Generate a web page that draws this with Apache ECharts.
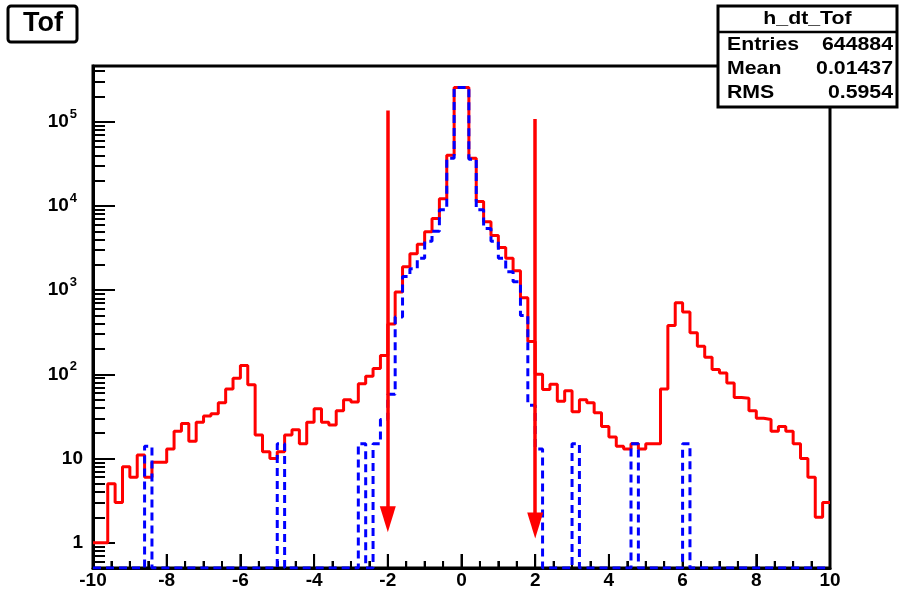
<!DOCTYPE html>
<html>
<head>
<meta charset="utf-8">
<title>h_dt_Tof</title>
<script src="https://cdn.jsdelivr.net/npm/echarts@6/dist/echarts.min.js"></script>
<style>
  html, body { margin: 0; padding: 0; background: #fff; }
  #tofChart { width: 900px; height: 593px; }
</style>
</head>
<body>
<div id="tofChart"></div>
<script>
// 100 bins of 0.2 between -10 and 10
const binStart = -10
const binWidth = 0.2

// h_dt_Tof, red solid
const redCounts = [
  1, 1, 5, 3, 8, 6, 11, 6, 9, 9,
  13, 21, 26, 16, 27, 32, 34, 46, 67, 90,
  127, 75, 19, 12, 10, 12, 19, 22, 15, 27,
  39, 27, 25, 37, 50, 47, 77, 95, 117, 167,
  395, 950, 1900, 2700, 3500, 4950, 7100, 12200, 40000, 255000,
  255000, 37000, 11300, 6500, 4450, 3200, 2400, 1700, 810, 245,
  100, 66, 76, 48, 64, 36, 50, 46, 35, 24,
  18, 14, 13, 15, 13, 15, 15, 67, 380, 710,
  550, 311, 215, 160, 114, 104, 79, 53, 52, 37,
  30, 29, 21, 24, 21, 15, 10, 6, 2, 3
]

// blue dashed
const blueCounts = [
  0, 0, 0, 0, 0, 0, 0, 14, 0, 0,
  0, 0, 0, 0, 0, 0, 0, 0, 0, 0,
  0, 0, 0, 0, 0, 15, 0, 0, 0, 0,
  0, 0, 0, 0, 0, 0, 15, 0, 15, 29,
  58, 480, 1450, 1800, 2400, 3800, 5000, 9000, 37000, 255000,
  255000, 36000, 9000, 5400, 3800, 2400, 1650, 1260, 500, 43,
  13, 0, 0, 0, 0, 15, 0, 0, 0, 0,
  0, 0, 0, 15, 0, 0, 0, 0, 0, 0,
  15, 0, 0, 0, 0, 0, 0, 0, 0, 0,
  0, 0, 0, 0, 0, 0, 0, 0, 0, 0
]

// log y axis
const yMin = 0.5
const yMax = 4.6e5
const yDecades = [0, 1, 2, 3, 4, 5]
const yMinorMultiples = [2, 3, 4, 5, 6, 7, 8, 9]

// x axis
const xMin = -10
const xMax = 10
const xStep = 2
const xMajorTicks = [-10, -8, -6, -4, -2, 0, 2, 4, 6, 8, 10]
const xMinorTicks = [-9.5, -9, -8.5, -7.5, -7, -6.5, -5.5, -5, -4.5, -3.5, -3, -2.5,
  -1.5, -1, -0.5, 0.5, 1, 1.5, 2.5, 3, 3.5, 4.5, 5, 5.5, 6.5, 7, 7.5, 8.5, 9, 9.5]

// cut arrows
const arrowX = [-2, 2]
const arrowTop = [1.36e5, 1.08e5]
const arrowTip = [1.9, 1.6]

// title and stat box
const histTitle = 'Tof'
const statTitle = 'h_dt_Tof'
const statNames = ['Entries', 'Mean', 'RMS']
const statValues = ['644884', '0.01437', '0.5954']

const FONT = 'Liberation Sans, Arial, Helvetica, sans-serif'
const lo = Math.log10(yMin)
const hi = Math.log10(yMax)

// bins -> points on lower edges, closed with the upper edge of the last bin
function toStep(counts) {
  let pts = counts.map((c, i) => [binStart + i * binWidth, Math.log10(Math.max(c, yMin))])
  pts.push([binStart + counts.length * binWidth, pts[pts.length - 1][1]])
  return pts
}

let minorTicks = []
for (let d = -1; d <= 5; d++) {
  yMinorMultiples.forEach(m => {
    let v = Math.log10(m * Math.pow(10, d))
    if (v > lo + 1e-6 && v < hi) minorTicks.push(v)
  })
}

// x ticks as [value, isMajor]
let xTickData = xMajorTicks.map(v => [v, 1]).concat(xMinorTicks.map(v => [v, 0]))

function statText(txt, x, y, align) {
  return {
    type: 'text', x: x, y: y, z: 101, scaleX: 1.12,
    style: { text: txt, font: 'bold 19px ' + FONT, fill: '#000', textAlign: align, textVerticalAlign: 'middle' }
  }
}

let statGraphics = [statText(statTitle, 807.5, 19, 'center')]
statNames.forEach((name, i) => {
  statGraphics.push(statText(name, 727, 45 + i * 24, 'left'))
  statGraphics.push(statText(statValues[i], 893, 45 + i * 24, 'right'))
})

let option = {
  animation: false,
  textStyle: { fontFamily: FONT },
  grid: {
    left: 93, right: 70, top: 66, bottom: 25,
    show: true, borderColor: '#000', borderWidth: 3
  },
  xAxis: {
    type: 'value',
    min: xMin, max: xMax, interval: xStep,
    axisLine: { show: true, onZero: false, lineStyle: { color: '#000', width: 3 } },
    axisTick: { show: true, inside: true, length: 14, lineStyle: { color: '#000', width: 2 } },
    minorTick: { show: true, splitNumber: 4, length: 7, lineStyle: { color: '#000', width: 2 } },
    axisLabel: { color: '#000', fontSize: 19, fontWeight: 'bold', margin: 3 },
    splitLine: { show: false }
  },
  yAxis: [
    {
      type: 'value',
      min: lo, max: hi,
      axisLine: { show: true, onZero: false, lineStyle: { color: '#000', width: 3 } },
      axisTick: { show: true, inside: true, length: 22, customValues: yDecades, lineStyle: { color: '#000', width: 2 } },
      axisLabel: {
        customValues: yDecades,
        margin: 10,
        formatter: v => {
          let e = Math.round(v)
          if (e === 0) return '{b|1}'
          if (e === 1) return '{b|10}'
          return '{b|10}{s|' + e + '}'
        },
        rich: {
          b: { fontSize: 19, fontWeight: 'bold', color: '#000', lineHeight: 28 },
          s: { fontSize: 13, fontWeight: 'bold', color: '#000', verticalAlign: 'top', padding: [0, 6, 0, 1] }
        }
      },
      splitLine: { show: false }
    },
    {
      // minor log ticks
      type: 'value',
      position: 'left',
      min: lo, max: hi,
      axisLine: { show: false, onZero: false },
      axisTick: { show: true, inside: true, length: 12, customValues: minorTicks, lineStyle: { color: '#000', width: 2 } },
      axisLabel: { show: false },
      splitLine: { show: false }
    }
  ],
  graphic: [
    {
      type: 'rect', z: 100,
      shape: { x: 8, y: 6, width: 69, height: 36, r: 3 },
      style: { fill: '#fff', stroke: '#000', lineWidth: 3 }
    },
    {
      type: 'text', x: 43, y: 24, z: 101,
      style: { text: histTitle, font: 'bold 27px ' + FONT, fill: '#000', textAlign: 'center', textVerticalAlign: 'middle' }
    },
    {
      type: 'rect', z: 100,
      shape: { x: 718, y: 6, width: 179, height: 101 },
      style: { fill: '#fff', stroke: '#000', lineWidth: 3 }
    },
    {
      type: 'line', z: 101,
      shape: { x1: 718, y1: 32, x2: 897, y2: 32 },
      style: { stroke: '#000', lineWidth: 2.5 }
    }
  ].concat(statGraphics),
  series: [
    {
      name: 'h_dt_Tof',
      type: 'line',
      step: 'end',
      data: toStep(redCounts),
      symbol: 'none',
      lineStyle: { color: '#ff0000', width: 3 }
    },
    {
      name: 'blue',
      type: 'line',
      step: 'end',
      data: toStep(blueCounts),
      symbol: 'none',
      lineStyle: { color: '#0000ff', width: 3, type: [8, 5] },
      markLine: {
        silent: true,
        symbol: ['none', 'triangle'],
        symbolSize: [16, 26],
        label: { show: false },
        lineStyle: { color: '#ff0000', width: 3.5, type: 'solid' },
        itemStyle: { color: '#ff0000' },
        data: arrowX.map((x, i) => [
          { coord: [x, Math.log10(arrowTop[i])] },
          { coord: [x, Math.log10(arrowTip[i])] }
        ])
      }
    },
    {
      // x-axis tick marks, placed through the x scale
      name: 'xticks',
      type: 'custom',
      silent: true,
      clip: false,
      z: 3,
      data: xTickData,
      renderItem: (params, api) => {
        const p = api.coord([api.value(0), lo])
        const len = api.value(1) ? 14 : 7
        return {
          type: 'line',
          shape: { x1: p[0], y1: p[1], x2: p[0], y2: p[1] - len },
          style: { stroke: '#000', lineWidth: 2 }
        }
      }
    }
  ]
}

let myChart = echarts.init(document.getElementById('tofChart'))
myChart.setOption(option)
window.addEventListener('resize', function () {
  myChart.resize()
})
</script>
</body>
</html>
